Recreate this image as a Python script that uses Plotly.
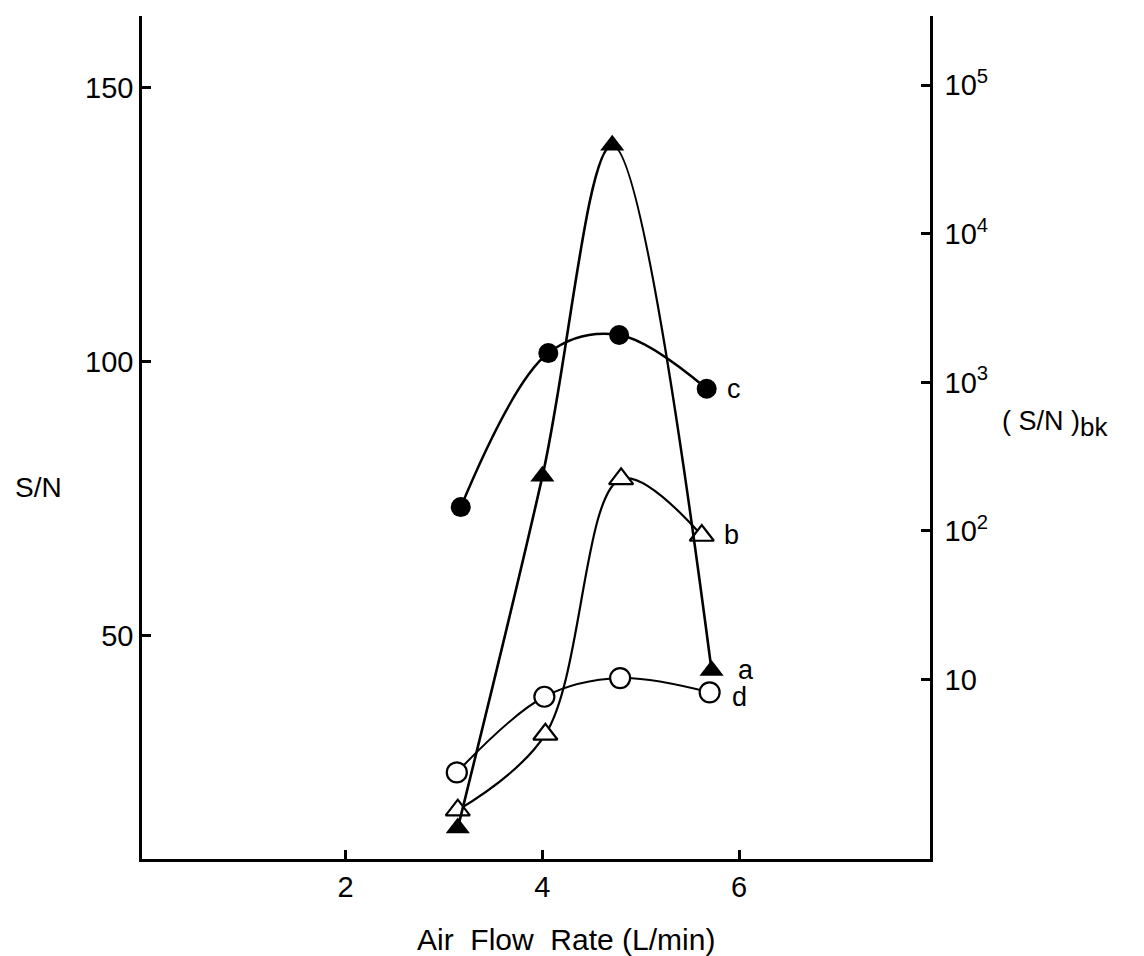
import math
import plotly.graph_objects as go

# ---- data ----
flow_a = [3.14, 4.00, 4.71, 5.72]
snbk_a = [1.00, 233, 39400, 11.5]      # (S/N)bk, filled triangles
flow_b = [3.14, 4.03, 4.80, 5.62]
snbk_b = [1.32, 4.28, 224, 93.2]       # (S/N)bk, open triangles
flow_c = [3.17, 4.06, 4.78, 5.67]
sn_c = [73.5, 101.6, 104.9, 95.1]      # S/N, filled circles
flow_d = [3.13, 4.02, 4.79, 5.70]
sn_d = [25.1, 38.9, 42.3, 39.7]        # S/N, open circles

x_ticks = [2, 4, 6]
y_ticks = [50, 100, 150]
y2_ticks = [10, 100, 1000, 10000, 100000]
y2_ticktext = ["10", "10<sup>2</sup>", "10<sup>3</sup>", "10<sup>4</sup>", "10<sup>5</sup>"]

FONT = "Liberation Sans"
BLACK = "#000000"

fig = go.Figure()

fig.add_trace(go.Scatter(
    x=flow_c, y=sn_c, mode="lines+markers", yaxis="y",
    line=dict(color=BLACK, width=2.5, shape="spline"),
    marker=dict(symbol="circle", size=20, color=BLACK),
    showlegend=False))
fig.add_trace(go.Scatter(
    x=flow_d, y=sn_d, mode="lines+markers", yaxis="y",
    line=dict(color=BLACK, width=2, shape="spline"),
    marker=dict(symbol="circle", size=20, color="white", line=dict(color=BLACK, width=2.2)),
    showlegend=False))
fig.add_trace(go.Scatter(
    x=flow_b, y=snbk_b, mode="lines+markers", yaxis="y2",
    line=dict(color=BLACK, width=2.2, shape="spline"),
    marker=dict(symbol="triangle-up", size=21, color="white", line=dict(color=BLACK, width=2.2)),
    showlegend=False))
fig.add_trace(go.Scatter(
    x=flow_a, y=snbk_a, mode="lines+markers", yaxis="y2",
    line=dict(color=BLACK, width=2.6, shape="spline"),
    marker=dict(symbol="triangle-up", size=21, color=BLACK),
    showlegend=False))

# curve labels
labels = [
    ("c", flow_c[-1], sn_c[-1], "y", 18, 0),
    ("d", flow_d[-1], sn_d[-1], "y", 20, -5),
    ("b", flow_b[-1], snbk_b[-1], "y2", 20, 1),
    ("a", flow_a[-1], snbk_a[-1], "y2", 24, 1),
]
annotations = []
for txt, xv, yv, yr, xs, ys in labels:
    annotations.append(dict(
        text=txt, x=xv, y=(yv if yr == "y" else math.log10(yv)),
        xref="x", yref=yr, xanchor="left", yanchor="middle",
        xshift=xs, yshift=ys, showarrow=False,
        font=dict(family=FONT, size=27, color=BLACK)))

annotations.append(dict(
    text="Air\u00a0 Flow\u00a0 Rate (L/min)", x=(566 - 142) / 788, y=0,
    xref="paper", yref="paper", xanchor="center", yanchor="middle",
    yshift=-80, showarrow=False,
    font=dict(family=FONT, size=30, color=BLACK)))
annotations.append(dict(
    text="S/N", x=0, y=(859 - 487) / 843,
    xref="paper", yref="paper", xanchor="center", yanchor="middle",
    xshift=-104, showarrow=False,
    font=dict(family=FONT, size=28, color=BLACK)))
annotations.append(dict(
    text="( S/N )<sub><span style='font-size:26px'>bk</span></sub>", x=1, y=(859 - 424) / 843,
    xref="paper", yref="paper", xanchor="left", yanchor="middle",
    xshift=70, showarrow=False,
    font=dict(family=FONT, size=27, color=BLACK)))

fig.update_layout(
    width=1144, height=956,
    margin=dict(l=142, r=214, t=16, b=97),
    paper_bgcolor="white", plot_bgcolor="white",
    font=dict(family=FONT, size=29, color=BLACK),
    annotations=annotations,
    xaxis=dict(
        range=[-0.07, 7.94], tickvals=x_ticks, ticks="inside", ticklen=9, tickwidth=2.5,
        tickcolor=BLACK, showline=True, linewidth=2.5, linecolor=BLACK,
        showgrid=False, zeroline=False, tickfont=dict(size=29)),
    yaxis=dict(
        range=[9.3, 163.1], tickvals=y_ticks, ticks="inside", ticklen=9, tickwidth=2.5,
        tickcolor=BLACK, showline=True, linewidth=2.5, linecolor=BLACK,
        showgrid=False, zeroline=False, tickfont=dict(size=29)),
    yaxis2=dict(
        type="log", overlaying="y", side="right", range=[-0.208, 5.466],
        tickvals=y2_ticks, ticktext=y2_ticktext, ticks="inside", ticklen=9, tickwidth=2.5,
        tickcolor=BLACK, showline=True, linewidth=2.5, linecolor=BLACK,
        showgrid=False, zeroline=False, tickfont=dict(size=29),
        ticklabelstandoff=6),
)

fig.write_html("out.html")
